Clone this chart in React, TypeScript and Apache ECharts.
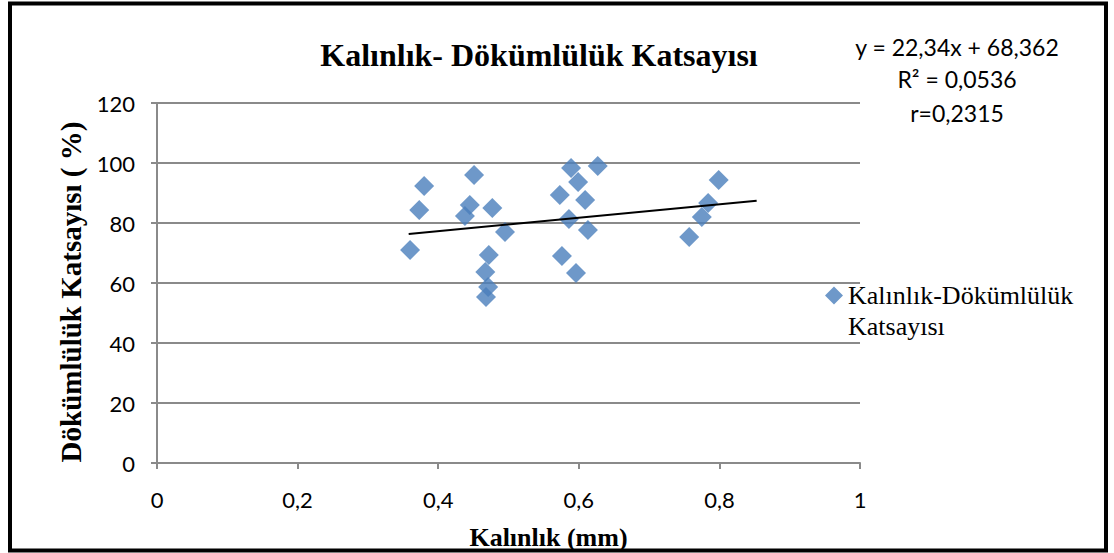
import React, { useEffect, useRef } from "react";
import * as echarts from "echarts";

const seriesName = "Kalınlık-Dökümlülük Katsayısı";
const thickness = [0.360, 0.373, 0.380, 0.438, 0.445, 0.451, 0.477, 0.495, 0.472, 0.467, 0.471, 0.468, 0.589, 0.627, 0.599, 0.573, 0.609, 0.586, 0.613, 0.576, 0.596, 0.799, 0.784, 0.775, 0.757];
const drape = [71, 84.3, 92.3, 82.3, 86, 96, 85, 77, 69.3, 63.7, 58.7, 55.3, 98.3, 99, 93.7, 89.3, 87.7, 81.3, 77.7, 69, 63.3, 94.3, 86.7, 82, 75.3];
const slope = 22.34;
const intercept = 68.362;
const trendX = [0.358, 0.853];
const equationLines = ["y = 22,34x + 68,362", "R² = 0,0536", "r=0,2315"];
const title = "Kalınlık- Dökümlülük Katsayısı";
const xName = "Kalınlık (mm)";
const yName = "Dökümlülük Katsayısı ( %)";

export default function App() {
  const ref = useRef<HTMLDivElement>(null);
  useEffect(() => {
    if (!ref.current) return;
    const chart = echarts.init(ref.current, null, { renderer: "svg" });
    const pts = thickness.map((x, i) => [x, drape[i]]);
    const trend = trendX.map((x) => [x, slope * x + intercept]);
    const sans = "Lato";
    const serif = "Liberation Serif";
    chart.setOption({
      animation: false,
      backgroundColor: "#ffffff",
      grid: { left: 157, right: 254, top: 103, bottom: 90, outerBoundsMode: "none", containLabel: false },
      title: {
        text: title,
        left: 539,
        top: 39,
        padding: 0,
        textAlign: "center",
        textStyle: { fontFamily: serif, fontWeight: "bold", fontSize: 32, color: "#000" },
      },
      legend: {
        data: [
          {
            name: seriesName,
            icon: "path://M9 0L18 9L9 18L0 9Z M9 49L9.01 49L9 49.01Z",
          },
        ],
        left: 825,
        top: 280,
        padding: 0,
        itemWidth: 18,
        itemHeight: 49,
        itemGap: 5,
        formatter: () => "Kalınlık-Dökümlülük\nKatsayısı",
        textStyle: { fontFamily: serif, fontSize: 26, color: "#000", lineHeight: 31 },
      },
      xAxis: {
        type: "value",
        min: 0,
        max: 1,
        interval: 0.2,
        name: xName,
        nameLocation: "middle",
        nameGap: 61,
        nameTextStyle: { fontFamily: serif, fontWeight: "bold", fontSize: 26, color: "#000", padding: [0, 0, 0, 80] },
        axisLine: { lineStyle: { color: "#8a8a8a", width: 2 } },
        axisTick: { show: true, length: 6, lineStyle: { color: "#8a8a8a", width: 2 } },
        axisLabel: {
          fontFamily: sans,
          fontSize: 22,
          color: "#000",
          margin: 25,
          formatter: (v: number) => String(Math.round(v * 10) / 10).replace(".", ","),
        },
        splitLine: { show: false },
      },
      yAxis: {
        type: "value",
        min: 0,
        max: 120,
        interval: 20,
        name: yName,
        nameLocation: "middle",
        nameGap: 68,
        nameTextStyle: { fontFamily: serif, fontWeight: "bold", fontSize: 29, color: "#000", padding: [0, 18, 0, 0] },
        axisLine: { show: true, lineStyle: { color: "#8a8a8a", width: 2 } },
        axisTick: { show: true, length: 6, lineStyle: { color: "#8a8a8a", width: 2 } },
        axisLabel: { fontFamily: sans, fontSize: 22, color: "#000", margin: 22 },
        splitLine: { show: true, lineStyle: { color: "#8a8a8a", width: 2 } },
      },
      series: [
        {
          name: seriesName,
          type: "scatter",
          symbol: "diamond",
          symbolSize: 20,
          itemStyle: { color: "#4a7ebb" },
          data: pts,
          z: 3,
        },
        {
          name: "trend",
          type: "line",
          data: trend,
          showSymbol: false,
          symbol: "none",
          lineStyle: { color: "#000", width: 2 },
          silent: true,
          z: 4,
        },
      ],
      graphic: [
        {
          type: "rect",
          shape: { x: 10, y: 3.5, width: 1096, height: 547 },
          style: { fill: "none", stroke: "#000", lineWidth: 4 },
          silent: true,
        },
        ...equationLines.map((t, i) => ({
          type: "text",
          x: 957,
          y: [47, 79, 113][i],
          style: {
            text: t,
            fill: "#000",
            font: `23px ${sans}`,
            textAlign: "center",
            textVerticalAlign: "middle",
          },
        })),
      ],
    });
    return () => chart.dispose();
  }, []);
  return (
    <div
      ref={ref}
      style={{ position: "fixed", left: 0, top: 0, width: 1114, height: 553 }}
    />
  );
}
